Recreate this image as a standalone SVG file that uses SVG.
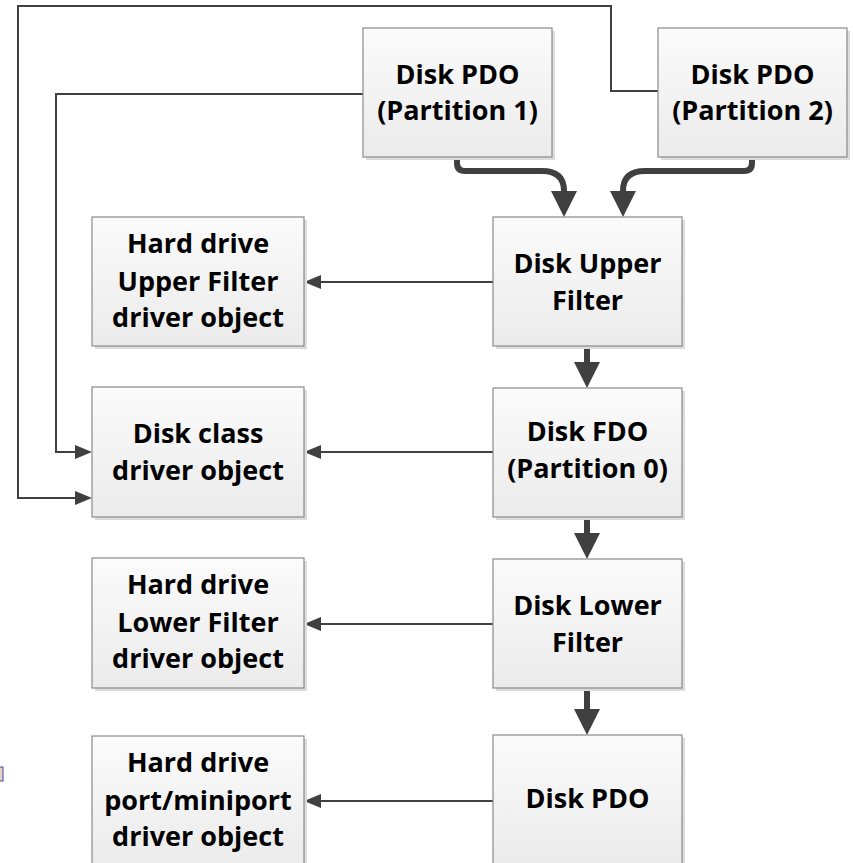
<svg xmlns="http://www.w3.org/2000/svg" width="853" height="863" viewBox="0 0 853 863">
<style>
.box{fill:url(#g);stroke:#8a8a8a;stroke-width:1.2}
.sh{fill:#dcdcdc}
.t{font-family:"Open Sans","Noto Sans","DejaVu Sans",sans-serif;font-weight:bold;font-size:27px;fill:#000;text-anchor:middle}
.thin{fill:none;stroke:#404040;stroke-width:2}
.thick{fill:none;stroke:#404040;stroke-width:6}
</style>
<defs>
<linearGradient id="g" x1="0" y1="0" x2="0" y2="1">
<stop offset="0" stop-color="#fbfbfb"/>
<stop offset="1" stop-color="#ebebeb"/>
</linearGradient>
<marker id="ah" markerUnits="userSpaceOnUse" markerWidth="17" markerHeight="14" refX="0" refY="7" orient="auto">
<path d="M0,0 L17,7 L0,14 z" fill="#404040"/>
</marker>
<marker id="AH" markerUnits="userSpaceOnUse" markerWidth="26" markerHeight="26" refX="0" refY="13" orient="auto">
<path d="M0,0 L26,13 L0,26 z" fill="#404040"/>
</marker>
</defs>
<rect width="853" height="863" fill="#fff"/>

<g id="connectors">
<path class="thin" d="M658,91 H611 V6 H18 V498 H75" marker-end="url(#ah)"/>
<path class="thin" d="M363,94 H56 V452 H75" marker-end="url(#ah)"/>
<path class="thin" d="M493,282 H321" marker-end="url(#ah)"/>
<path class="thin" d="M493,452 H321" marker-end="url(#ah)"/>
<path class="thin" d="M493,624 H321" marker-end="url(#ah)"/>
<path class="thin" d="M493,801 H321" marker-end="url(#ah)"/>
<path class="thick" d="M457,157 V163 Q457,171 465,171 H542 Q564,171 564,191" marker-end="url(#AH)"/>
<path class="thick" d="M752,157 V163 Q752,171 744,171 H645 Q623,171 623,191" marker-end="url(#AH)"/>
<path class="thick" d="M587,346 V362" marker-end="url(#AH)"/>
<path class="thick" d="M587,517 V533" marker-end="url(#AH)"/>
<path class="thick" d="M587,688 V709" marker-end="url(#AH)"/>
</g>

<g id="pdo1">
<rect class="sh" x="366" y="31" width="189" height="129"/>
<rect class="box" x="363" y="28" width="189" height="129"/>
<text class="t" x="457.5" y="84">Disk PDO</text>
<text class="t" x="457.5" y="120">(Partition 1)</text>
</g>
<g id="pdo2">
<rect class="sh" x="661" y="31" width="189" height="129"/>
<rect class="box" x="658" y="28" width="189" height="129"/>
<text class="t" x="752.5" y="84">Disk PDO</text>
<text class="t" x="752.5" y="120">(Partition 2)</text>
</g>
<g id="upper-filter">
<rect class="sh" x="496" y="220" width="189" height="129"/>
<rect class="box" x="493" y="217" width="189" height="129"/>
<text class="t" x="587.5" y="273">Disk Upper</text>
<text class="t" x="587.5" y="310">Filter</text>
</g>
<g id="hd-upper">
<rect class="sh" x="95" y="220" width="212" height="129"/>
<rect class="box" x="92" y="217" width="212" height="129"/>
<text class="t" x="198" y="253">Hard drive</text>
<text class="t" x="198" y="291">Upper Filter</text>
<text class="t" x="198" y="327">driver object</text>
</g>
<g id="fdo">
<rect class="sh" x="496" y="391" width="189" height="129"/>
<rect class="box" x="493" y="388" width="189" height="129"/>
<text class="t" x="587.5" y="441">Disk FDO</text>
<text class="t" x="587.5" y="478">(Partition 0)</text>
</g>
<g id="disk-class">
<rect class="sh" x="95" y="390" width="212" height="130"/>
<rect class="box" x="92" y="387" width="212" height="130"/>
<text class="t" x="198" y="443">Disk class</text>
<text class="t" x="198" y="480">driver object</text>
</g>
<g id="lower-filter">
<rect class="sh" x="496" y="562" width="189" height="129"/>
<rect class="box" x="493" y="559" width="189" height="129"/>
<text class="t" x="587.5" y="615">Disk Lower</text>
<text class="t" x="587.5" y="652">Filter</text>
</g>
<g id="hd-lower">
<rect class="sh" x="95" y="561" width="212" height="130"/>
<rect class="box" x="92" y="558" width="212" height="130"/>
<text class="t" x="198" y="594">Hard drive</text>
<text class="t" x="198" y="632">Lower Filter</text>
<text class="t" x="198" y="668">driver object</text>
</g>
<g id="disk-pdo">
<rect class="sh" x="496" y="738" width="189" height="129"/>
<rect class="box" x="493" y="735" width="189" height="129"/>
<text class="t" x="587.5" y="808">Disk PDO</text>
</g>
<g id="hd-port">
<rect class="sh" x="95" y="739" width="212" height="129"/>
<rect class="box" x="92" y="736" width="212" height="129"/>
<text class="t" x="198" y="772">Hard drive</text>
<text class="t" x="198" y="810">port/miniport</text>
<text class="t" x="198" y="846">driver object</text>
</g>
<rect x="-2" y="767" width="5" height="14" fill="#e8cfc8" stroke="#3a4aa0" stroke-width="1"/>
</svg>
